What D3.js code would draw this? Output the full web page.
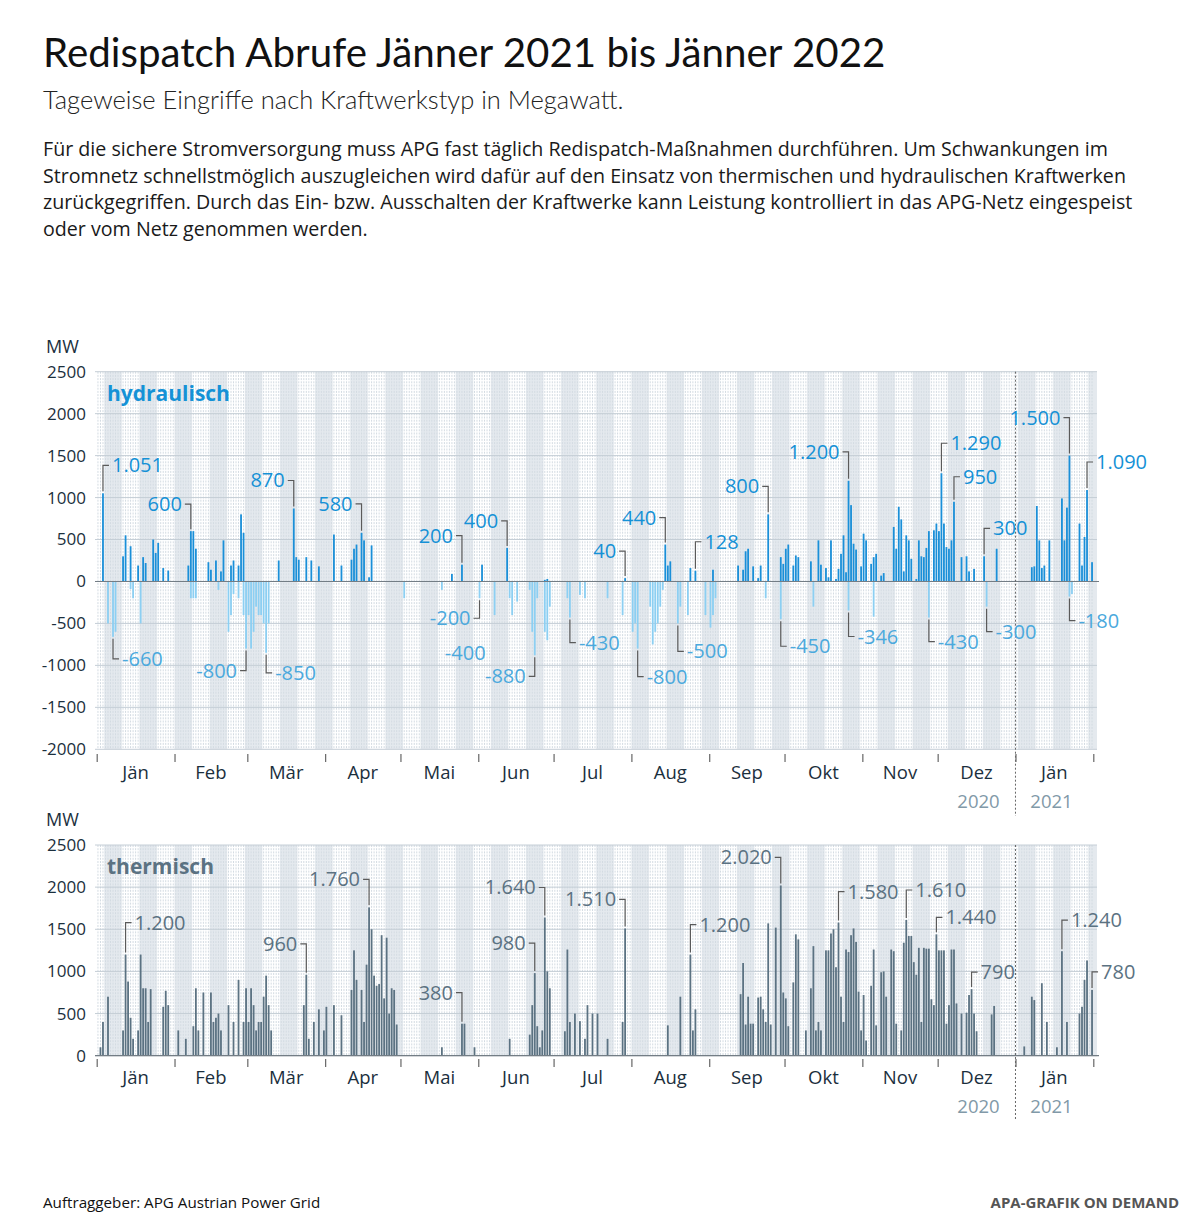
<!DOCTYPE html>
<html><head><meta charset="utf-8">
<script src="https://cdn.jsdelivr.net/npm/d3@7"></script>
<style>
body{margin:0;background:#fff}
svg text{font-family:"Open Sans","Noto Sans",sans-serif}
</style></head>
<body><svg id="c" width="1200" height="1232"></svg>
<script>
// ---------------- data ----------------
// day = days since 2020-01-01
const startDate = "2020-01-01";
const endDate = "2021-02-01";
const yearSplit = "2021-01-01";
const monthLabels = ["Jän","Feb","Mär","Apr","Mai","Jun","Jul","Aug","Sep","Okt","Nov","Dez","Jän"];
const yearLabels = ["2020","2021"];
const hydroTicks = [2500,2000,1500,1000,500,0,-500,-1000,-1500,-2000];
const thermTicks = [2500,2000,1500,1000,500,0];

const hydroPos = [[2,1051],[10,300],[11,550],[13,420],[16,190],[18,290],[19,220],[22,500],[23,340],[24,460],[26,160],[28,130],
[36,190],[37,600],[38,600],[39,390],[44,230],[45,140],[47,250],[49,120],[50,490],[53,190],[54,250],[56,190],[57,800],[58,580],
[72,250],[78,870],[79,290],[80,260],[83,290],[85,250],[88,180],[94,560],[97,190],[101,260],[102,390],[103,440],[105,580],[106,490],[108,50],[109,430],
[141,90],[145,200],[153,200],[163,400],[178,20],[179,30],[210,40],[226,440],[227,190],[228,240],[236,160],[238,128],[245,140],
[255,190],[257,140],[258,360],[259,390],[261,180],[263,40],[264,190],[267,800],[272,290],[273,210],[274,390],[275,440],[277,190],[278,310],[279,290],
[284,240],[287,490],[288,200],[290,160],[291,50],[292,490],[294,30],[295,150],[296,330],[297,550],[298,110],[299,1200],[300,910],[301,450],[302,380],
[304,180],[305,570],[306,490],[308,210],[309,290],[310,330],[312,70],[313,100],[317,650],[318,390],[319,890],[320,740],[321,120],[322,550],[323,490],[324,270],
[326,30],[327,490],[328,300],[329,290],[330,400],[331,600],[333,610],[334,690],[335,600],[336,1290],[337,690],[338,410],[339,390],[340,490],[341,950],
[344,290],[346,300],[347,120],[349,150],[353,300],[358,390],[372,170],[373,180],[374,900],[375,490],[376,160],[377,190],[379,490],
[384,990],[385,490],[386,880],[387,1500],[391,690],[392,190],[393,530],[394,1090],[396,230]];

const hydroNeg = [[4,-500],[6,-660],[7,-600],[13,-90],[14,-200],[17,-500],[37,-200],[38,-200],[39,-200],[48,-100],
[52,-600],[53,-400],[54,-150],[56,-200],[58,-400],[59,-800],[60,-400],[61,-800],[62,-600],[63,-300],[64,-400],[65,-400],[66,-500],[67,-850],[68,-500],
[122,-200],[137,-100],[152,-200],[158,-400],[164,-200],[165,-400],[167,-240],[172,-100],[173,-600],[174,-880],[175,-200],[178,-600],[179,-700],[180,-300],
[187,-200],[188,-430],[192,-160],[194,-200],[203,-200],[209,-400],[213,-600],[214,-500],[215,-800],[220,-300],[221,-750],[222,-600],[223,-500],[224,-300],[225,-100],
[231,-500],[232,-300],[235,-400],[242,-400],[244,-550],[245,-400],[246,-200],[266,-200],[272,-450],[285,-300],[299,-346],[309,-420],[331,-430],[354,-300],
[387,-180],[388,-150]];

const thermal = [[1,100],[2,400],[4,700],[10,300],[11,1200],[12,880],[13,450],[14,200],[16,300],[17,1200],[18,800],[19,800],[20,400],[21,790],
[26,580],[27,770],[28,600],[32,300],[35,200],[38,350],[39,800],[40,300],[42,750],[45,750],[46,400],[47,450],[48,500],[49,300],[52,600],[54,400],[56,900],
[58,400],[59,800],[60,400],[61,800],[62,600],[63,300],[64,400],[65,400],[66,700],[67,950],[68,600],[69,300],[82,600],[83,960],[84,200],[86,400],[88,550],
[90,300],[91,580],[94,600],[97,480],[101,780],[102,1250],[103,900],[105,780],[106,400],[107,1080],[108,1760],[109,1500],[110,950],[111,830],[112,850],
[113,1430],[114,680],[115,1400],[116,500],[117,800],[118,780],[119,370],
[137,100],[145,380],[146,380],[150,100],[164,200],[172,250],[173,600],[174,980],[175,350],[176,100],[177,300],[178,1640],[179,1000],[180,800],
[186,290],[187,1260],[188,400],[190,500],[192,410],[194,200],[195,600],[197,500],[199,500],[203,200],[209,400],[210,1510],[227,360],[232,700],
[236,1200],[237,300],[238,550],[256,730],[257,1100],[258,370],[259,700],[260,380],[261,380],[263,690],[264,700],[265,550],[266,400],[267,1570],[268,370],
[270,1520],[272,2020],[273,750],[274,680],[275,350],[277,870],[278,1440],[279,1380],[282,300],[284,800],[285,1300],[286,300],[287,400],[288,300],
[290,1250],[291,1250],[292,1450],[293,1500],[294,1050],[295,1580],[296,700],[297,400],[298,1260],[299,1230],[300,1430],[301,1510],[302,1350],[303,760],
[304,300],[305,720],[306,180],[308,830],[309,1260],[310,360],[312,990],[313,1000],[314,700],[316,1260],[317,1240],[318,380],[320,300],[321,1340],
[322,1610],[323,1420],[324,1420],[325,1110],[326,960],[327,1280],[328,400],[329,1280],[330,1270],[331,1270],[332,670],[333,600],[334,1440],[335,1250],
[336,1250],[337,1250],[338,380],[339,600],[340,1260],[341,1260],[342,620],[344,500],[346,510],[347,720],[348,790],[349,500],[350,290],[356,490],[357,590],
[369,110],[372,700],[373,660],[376,860],[378,400],[382,100],[384,1240],[386,400],[391,500],[392,580],[393,900],[394,1130],[396,780]];

// annotations: [day, value, text]
const hydroNotes = [[2,1051,"1.051"],[37,600,"600"],[78,870,"870"],[105,580,"580"],[6,-660,"-660"],[59,-800,"-800"],[67,-850,"-850"],
[145,200,"200"],[163,400,"400"],[152,-200,"-200"],[158,-400,"-400"],[174,-880,"-880"],[188,-430,"-430"],[210,40,"40"],[215,-800,"-800"],
[226,440,"440"],[231,-500,"-500"],[238,128,"128"],[267,800,"800"],[272,-450,"-450"],[299,1200,"1.200"],[299,-346,"-346"],[331,-430,"-430"],
[336,1290,"1.290"],[341,950,"950"],[353,300,"300"],[354,-300,"-300"],[387,1500,"1.500"],[387,-180,"-180"],[394,1090,"1.090"]];
const thermNotes = [[11,1200,"1.200"],[83,960,"960"],[108,1760,"1.760"],[145,380,"380"],[174,980,"980"],[178,1640,"1.640"],[210,1510,"1.510"],
[236,1200,"1.200"],[272,2020,"2.020"],[295,1580,"1.580"],[322,1610,"1.610"],[334,1440,"1.440"],[348,790,"790"],[384,1240,"1.240"],[396,780,"780"]];
// layout of the annotation leaders: side (L/R/N = no line), leader length in px
const hydroNoteLayout = [["R",28],["L",27],["L",28],["L",29],["R",22],["L",22],["R",20],["L",29],["L",27],["L",20],["N",38],["L",21],["R",25],
["L",27],["R",28],["L",27],["R",28],["R",29],["L",28],["R",27],["L",29],["R",26],["R",24],["R",30],["R",25],["R",28],["R",25],["L",38],["R",24],["R",28]];
const thermNoteLayout = [["R",32],["L",31],["L",28],["L",31],["L",30],["L",30],["L",29],["R",30],["L",28],["R",31],["R",30],["R",17],["R",17],["R",31],["R",18]];

// ---------------- drawing ----------------
const svg = d3.select("#c");
const parse = d3.timeParse("%Y-%m-%d");
const t0 = parse(startDate), t1 = parse(endDate);
const x = d3.scaleTime().domain([t0, t1]).range([96.7, 1093.3]);
const dayDate = d => d3.timeDay.offset(t0, d);
const dayCenter = d => (x(dayDate(d)) + x(dayDate(d + 1))) / 2;
const plotL = 95, plotR = 1097;
const ink = "#1b2f3d";

// header
svg.append("text").attr("x",43).attr("y",67).attr("font-size",40.3).attr("fill","#111")
  .style("font-family","Lato,'Open Sans',sans-serif").attr("font-weight",400).text("Redispatch Abrufe Jänner 2021 bis Jänner 2022");
svg.append("text").attr("x",43).attr("y",109).attr("font-size",25.5).attr("fill","#222")
  .style("font-family","Lato,'Open Sans',sans-serif").attr("font-weight",300).text("Tageweise Eingriffe nach Kraftwerkstyp in Megawatt.");
const body = ["Für die sichere Stromversorgung muss APG fast täglich Redispatch-Maßnahmen durchführen. Um Schwankungen im",
"Stromnetz schnellstmöglich auszugleichen wird dafür auf den Einsatz von thermischen und hydraulischen Kraftwerken",
"zurückgegriffen. Durch das Ein- bzw. Ausschalten der Kraftwerke kann Leistung kontrolliert in das APG-Netz eingespeist",
"oder vom Netz genommen werden."];
svg.append("g").selectAll("text").data(body).join("text").attr("x",43).attr("y",(d,i)=>156+i*26.6)
  .attr("font-size",19.65).attr("fill","#1a1a1a").text(d=>d);

function panel(cfg){
  const g = svg.append("g");
  const y = d3.scaleLinear().domain(cfg.domain).range(cfg.range);
  const top = y(cfg.domain[1]), bot = y(cfg.domain[0]);
  // weekly bands (alternate weeks, starting Saturdays)
  const bands = [];
  for (let d = 3; d < 400; d += 14) bands.push(d);
  g.append("g").selectAll("rect").data(bands).join("rect")
    .attr("x", d => Math.max(plotL, x(dayDate(d))))
    .attr("width", d => Math.max(0, Math.min(plotR, x(dayDate(d+7))) - Math.max(plotL, x(dayDate(d)))))
    .attr("y", top).attr("height", bot - top).attr("fill", "#e4e9ee");
  // fine dotted day grid
  const days = d3.range(0, 397);
  g.append("g").selectAll("line").data(days).join("line")
    .attr("x1", d => dayCenter(d)).attr("x2", d => dayCenter(d))
    .attr("y1", top).attr("y2", bot)
    .attr("stroke", "#d3dbe2").attr("stroke-width", 1).attr("stroke-dasharray", "2,1.2");
  // grid lines every 500
  g.append("g").selectAll("line").data(cfg.ticks).join("line")
    .attr("x1", plotL).attr("x2", plotR).attr("y1", d => y(d)).attr("y2", d => y(d))
    .attr("stroke", "#c5ced6").attr("stroke-width", 1);
  // y axis labels
  const ya = d3.axisLeft(y).tickValues(cfg.ticks).tickSize(0).tickPadding(0).tickFormat(d => String(d));
  const yg = g.append("g").attr("transform", "translate(86,0)").call(ya);
  yg.select(".domain").remove();
  yg.selectAll("text").attr("font-size", 17).attr("fill", ink).style("font-family","'Open Sans',sans-serif");
  g.append("text").attr("x", 46).attr("y", top - 19).attr("font-size", 18).attr("fill", ink).text("MW");
  // bars
  cfg.series.forEach(s => {
    g.append("g").selectAll("rect").data(s.data).join("rect")
      .attr("x", d => dayCenter(d[0]) - 0.9).attr("width", 1.8)
      .attr("y", d => Math.min(y(0), y(d[1])))
      .attr("height", d => Math.abs(y(d[1]) - y(0)))
      .attr("fill", s.color);
  });
  // zero line
  g.append("line").attr("x1", plotL).attr("x2", plotR + 2).attr("y1", y(0)).attr("y2", y(0))
    .attr("stroke", "#737d85").attr("stroke-width", 1.2);
  // year separator
  g.append("line").attr("x1", x(parse(yearSplit))).attr("x2", x(parse(yearSplit)))
    .attr("y1", top).attr("y2", cfg.axisY + 62).attr("stroke", "#666").attr("stroke-width", 1).attr("stroke-dasharray", "2,2");
  // month ticks
  const months = d3.timeMonth.range(t0, d3.timeDay.offset(t1, 1));
  const xa = d3.axisBottom(x).tickValues(months).tickSize(8).tickFormat("");
  const xg = g.append("g").attr("transform", `translate(0,${cfg.axisY})`).call(xa);
  xg.select(".domain").remove();
  xg.selectAll("line").attr("stroke", "#666").attr("stroke-width", 1.2);
  const mids = months.slice(0, -1).map((m, i) => [m, monthLabels[i]]);
  g.append("g").selectAll("text").data(mids).join("text")
    .attr("x", d => (x(d[0]) + x(d3.timeMonth.offset(d[0], 1))) / 2)
    .attr("y", cfg.axisY + 25).attr("text-anchor", "middle").attr("font-size", 18.5).attr("fill", ink).text(d => d[1]);
  const sx = x(parse(yearSplit));
  g.append("text").attr("x", sx - 37).attr("y", cfg.axisY + 54).attr("text-anchor", "middle").attr("font-size", 18.5).attr("fill", "#8199a8").text(yearLabels[0]);
  g.append("text").attr("x", sx + 36).attr("y", cfg.axisY + 54).attr("text-anchor", "middle").attr("font-size", 18.5).attr("fill", "#8199a8").text(yearLabels[1]);
  // panel title
  g.append("text").attr("x", 107).attr("y", top + 29).attr("font-size", 21).attr("font-weight", 700)
    .attr("fill", cfg.titleColor).text(cfg.title);
  // annotations
  const ng = g.append("g");
  cfg.notes.forEach((n, i) => {
    const [side, len] = cfg.layout[i];
    const bx = dayCenter(n[0]);
    const neg = n[1] < 0;
    const end = y(n[1]) + (neg ? 2 : -2);
    const ly = y(n[1]) + (neg ? len : -len);
    const col = neg ? cfg.negLabel : cfg.posLabel;
    if (side !== "N") {
      const hx = side === "R" ? bx + 6 : bx - 6;
      ng.append("path").attr("d", `M${bx},${end}V${ly}H${hx}`).attr("fill", "none")
        .attr("stroke", "#5a5a5a").attr("stroke-width", 1.2);
    }
    ng.append("text").attr("x", side === "R" ? bx + 9 : bx - 9).attr("y", ly)
      .attr("dy", "0.35em").attr("text-anchor", side === "R" ? "start" : "end")
      .attr("font-size", 20).attr("fill", col).text(n[2]);
  });
}

panel({domain: [-2000, 2500], range: [749.3, 371.7], ticks: hydroTicks, axisY: 754,
  series: [{data: hydroNeg, color: "#8ccff2"}, {data: hydroPos, color: "#1a8fd8"}],
  title: "hydraulisch", titleColor: "#1592d6", notes: hydroNotes, layout: hydroNoteLayout,
  posLabel: "#1591d6", negLabel: "#4ba9dd"});
panel({domain: [0, 2500], range: [1055.7, 845], ticks: thermTicks, axisY: 1059,
  series: [{data: thermal, color: "#5b7282"}],
  title: "thermisch", titleColor: "#5b7282", notes: thermNotes, layout: thermNoteLayout,
  posLabel: "#5b7282", negLabel: "#5b7282"});

// footer
svg.append("text").attr("x",43).attr("y",1208).attr("font-size",15.2).attr("fill","#111").text("Auftraggeber: APG Austrian Power Grid");
svg.append("text").attr("x",1179).attr("y",1208).attr("text-anchor","end").attr("font-size",15).attr("font-weight",700)
  .attr("fill","#555").text("APA-GRAFIK ON DEMAND");
</script></body></html>
